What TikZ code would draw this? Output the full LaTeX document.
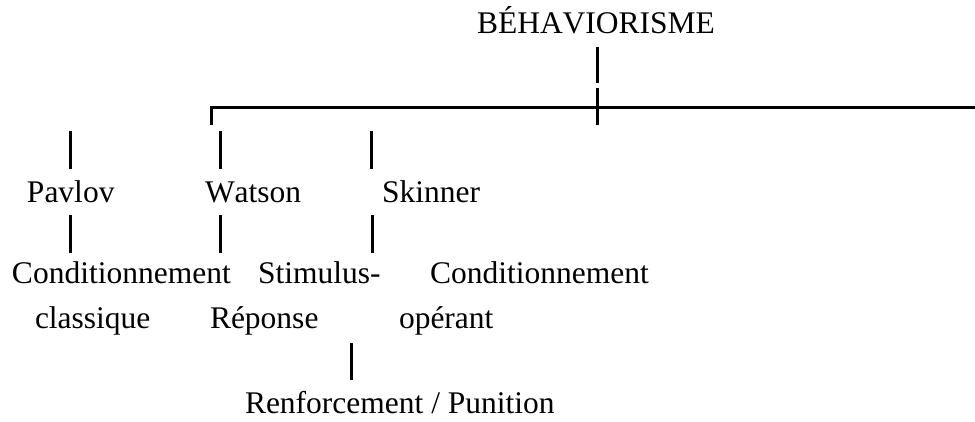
\documentclass[tikz,border=0pt]{standalone}
\usepackage{fontspec}
\setmainfont{Liberation Serif}[Kerning=Off]
\begin{document}
\begin{tikzpicture}[x=1pt,y=-1pt,
  label/.style={inner sep=0pt,outer sep=0pt,anchor=base west,
    font=\fontsize{31.5}{36}\selectfont},
  bar/.style={line width=3pt,black}]
\useasboundingbox (0,0) rectangle (975,421);

% Titles and terms
\node[label] (beh)  at (477,33)  {BÉHAVIORISME};
\node[label] (pav)  at (27,202)  {Pavlov};
\node[label] (wat)  at (205,202) {Watson};
\node[label] (ski)  at (382,202) {Skinner};
\node[label] (cc1)  at (12,283)  {Conditionnement};
\node[label] (sr1)  at (258,283) {Stimulus-};
\node[label] (co1)  at (430,283) {Conditionnement};
\node[label] (cc2)  at (35,328)  {classique};
\node[label] (sr2)  at (210,328) {Réponse};
\node[label] (co2)  at (399,328) {opérant};
\node[label] (rp)   at (245,413) {Renforcement / Punition};

% Connector end points
\coordinate (t1) at (597,47);  \coordinate (t2) at (597,83);
\coordinate (t3) at (597,88);  \coordinate (t4) at (597,125);
\coordinate (hl) at (211,107); \coordinate (hr) at (975,107);
\coordinate (hd) at (211,125);
\coordinate (a1) at (70,131);  \coordinate (a2) at (70,169);
\coordinate (b1) at (220,131); \coordinate (b2) at (220,169);
\coordinate (c1) at (371,131); \coordinate (c2) at (371,169);
\coordinate (a3) at (70,215);  \coordinate (a4) at (70,253);
\coordinate (b3) at (220,215); \coordinate (b4) at (220,253);
\coordinate (c3) at (372,215); \coordinate (c4) at (372,253);
\coordinate (r1) at (351,343); \coordinate (r2) at (351,380);

% Branches
\draw[bar] (t1) -- (t2);
\draw[bar] (t3) -- (t4);
\draw[bar] (hd) -- (hl) -- (hr);
\draw[bar] (a1) -- (a2);
\draw[bar] (b1) -- (b2);
\draw[bar] (c1) -- (c2);
\draw[bar] (a3) -- (a4);
\draw[bar] (b3) -- (b4);
\draw[bar] (c3) -- (c4);
\draw[bar] (r1) -- (r2);
\end{tikzpicture}
\end{document}
